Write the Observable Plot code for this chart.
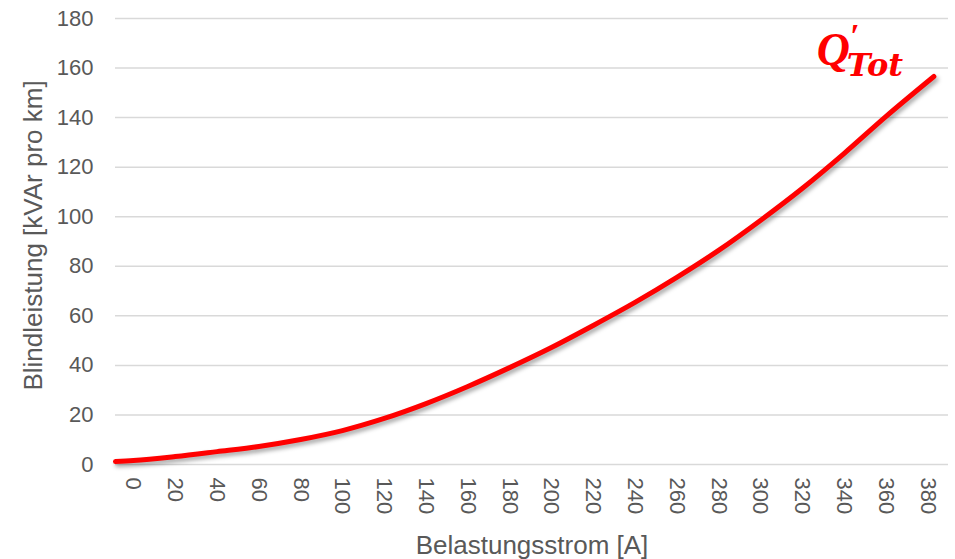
<!DOCTYPE html>
<html>
<head>
<meta charset="utf-8">
<script src="https://cdn.jsdelivr.net/npm/d3@7"></script>
<script src="https://cdn.jsdelivr.net/npm/@observablehq/plot@0.6"></script>
<style>
  html, body { margin: 0; padding: 0; background: #fff; }
</style>
</head>
<body>
<div id="chart"></div>
<script>
// Belastungsstrom [A]
const strom = [-8.6, 0, 20, 40, 60, 80, 100, 120, 140, 160, 180, 200, 220, 240, 260, 280, 300, 320, 340, 360, 383];
// Blindleistung [kVAr pro km]
const leistung = [1.2, 1.6, 3.2, 5.2, 7.3, 10.1, 13.7, 18.6, 24.6, 31.5, 39.1, 47.2, 56.1, 65.4, 75.5, 86.4, 98.5, 111.4, 125.5, 140.4, 156.6];
const xTicks = d3.range(0, 381, 20);
const yTicks = d3.range(0, 181, 20);
const seriesName = "Q";
const seriesPrime = "′";
const seriesSub = "Tot";
const xTitle = "Belastungsstrom [A]";
const yTitle = "Blindleistung [kVAr pro km]";

const data = strom.map((s, i) => ({strom: s, leistung: leistung[i]}));
const serif = "'Liberation Serif', 'DejaVu Serif', serif";
const serifWide = "'DejaVu Serif', 'Liberation Serif', serif";
const labelPos = [{x: 327, y: 167}];

const chart = Plot.plot({
  width: 955,
  height: 559,
  marginLeft: 115,
  marginRight: 7,
  marginTop: 18,
  marginBottom: 95,
  style: {fontFamily: "Arial, 'Liberation Sans', sans-serif", background: "#fff"},
  x: {domain: [-8.6, 390]},
  y: {domain: [0, 180]},
  marks: [
    Plot.gridY(yTicks, {stroke: "#d9d9d9", strokeOpacity: 1, strokeWidth: 1.5}),
    Plot.axisX({ticks: xTicks, tickSize: 0, tickPadding: 13, tickRotate: 90, fontSize: 22, fill: "#595959", label: null}),
    Plot.axisY({ticks: yTicks, tickSize: 0, tickPadding: 22, fontSize: 22, fill: "#595959", label: null}),
    Plot.line(data, {x: "strom", y: "leistung", stroke: "#ff0000", strokeWidth: 5, curve: "monotone-x"}),
    Plot.text([yTitle], {frameAnchor: "left", textAnchor: "middle", lineAnchor: "middle", dx: -82, dy: -6, rotate: -90, fontSize: 26, fill: "#595959"}),
    Plot.text([xTitle], {frameAnchor: "bottom", textAnchor: "middle", lineAnchor: "middle", dy: 81, fontSize: 26, fill: "#595959"}),
    Plot.text(labelPos, {x: "x", y: "y", text: () => seriesName, textAnchor: "start", lineAnchor: "middle", fontSize: 46, fontWeight: "bold", fontStyle: "italic", fontFamily: serif, fill: "#ff0000"}),
    Plot.text(labelPos, {x: "x", y: "y", text: () => seriesPrime, dx: 33, dy: -15, textAnchor: "start", lineAnchor: "middle", fontSize: 34, fontWeight: "bold", fontStyle: "italic", fontFamily: serif, fill: "#ff0000"}),
    Plot.text(labelPos, {x: "x", y: "y", text: () => seriesSub, dx: 30, dy: 15, textAnchor: "start", lineAnchor: "middle", fontSize: 32, fontWeight: "bold", fontStyle: "italic", fontFamily: serifWide, fill: "#ff0000"})
  ]
});

d3.select(chart).selectAll("[aria-label=line] path")
  .style("filter", "drop-shadow(2px 3px 2px rgba(0,0,0,0.35))");

document.getElementById("chart").appendChild(chart);
</script>
</body>
</html>
